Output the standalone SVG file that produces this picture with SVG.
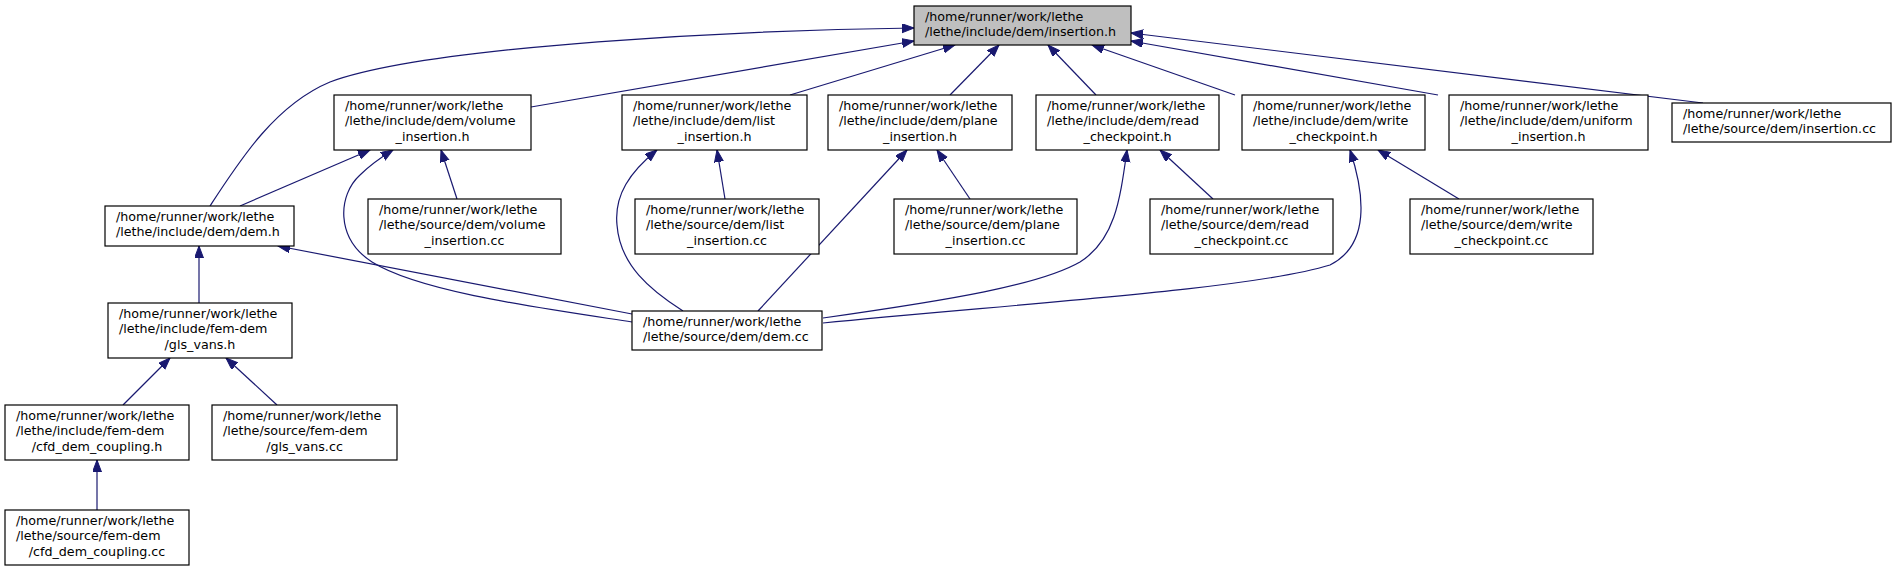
<svg xmlns="http://www.w3.org/2000/svg" width="1897" height="572" viewBox="0 0 1897 572">
<style>
  .box { fill: #ffffff; stroke: #000000; stroke-width: 1.2; }
  .cur { fill: #bfbfbf; stroke: #000000; stroke-width: 1.2; }
  text { font-family: "DejaVu Sans", "Liberation Sans", sans-serif; font-size: 12.7px; fill: #000000; }
  .m { text-anchor: middle; }
  .e { fill: none; stroke: #191970; stroke-width: 1.2; marker-end: url(#ah); }
</style>
<defs>
  <marker id="ah" markerUnits="userSpaceOnUse" markerWidth="14" markerHeight="10" refX="12" refY="4.5" orient="auto">
    <path d="M0,0 L12,4.5 L0,9 z" fill="#191970" stroke="#191970" stroke-width="1"/>
  </marker>
</defs>
<rect width="1897" height="572" fill="#ffffff"/>

<g id="edges">
  <path class="e" d="M210,206 C240,160 275,105 330,82 C430,45 750,30 914,28"/>
  <path class="e" d="M531,107 L914,41"/>
  <path class="e" d="M790,95 L955,45"/>
  <path class="e" d="M950,95 L999,45"/>
  <path class="e" d="M1096,95 L1048,45"/>
  <path class="e" d="M1235,95 L1092,45"/>
  <path class="e" d="M1438,95 L1131,41"/>
  <path class="e" d="M1703,103 L1131,33"/>
  <path class="e" d="M240,206 L370,150"/>
  <path class="e" d="M632,322 C540,308 420,292 372,262 C335,238 338,195 360,175 C370,165 380,158 393,150"/>
  <path class="e" d="M457,199 L441,150"/>
  <path class="e" d="M683,311 C650,290 620,265 617,225 C614,195 630,172 657,150"/>
  <path class="e" d="M725,199 L717,150"/>
  <path class="e" d="M758,311 L907,150"/>
  <path class="e" d="M970,199 L937,150"/>
  <path class="e" d="M823,318 C950,300 1040,285 1080,262 C1115,240 1120,200 1127,150"/>
  <path class="e" d="M1213,199 L1160,150"/>
  <path class="e" d="M823,323 C1000,305 1250,290 1330,265 C1370,245 1365,195 1350,150"/>
  <path class="e" d="M1459,199 L1378,150"/>
  <path class="e" d="M632,314 L278,246"/>
  <path class="e" d="M199,303 L199,246"/>
  <path class="e" d="M123,405 L170,358"/>
  <path class="e" d="M277,405 L226,358"/>
  <path class="e" d="M97,510 L97,460"/>
</g>

<g id="n_ins_h">
  <rect class="cur" x="914" y="6" width="217" height="39"/>
  <text x="925" y="21">/home/runner/work/lethe</text>
  <text x="925" y="36">/lethe/include/dem/insertion.h</text>
</g>
<g id="n_vol_h">
  <rect class="box" x="334" y="95" width="197" height="55"/>
  <text x="345" y="110">/home/runner/work/lethe</text>
  <text x="345" y="125">/lethe/include/dem/volume</text>
  <text class="m" x="432.5" y="140.5">_insertion.h</text>
</g>
<g id="n_list_h">
  <rect class="box" x="622" y="95" width="185" height="55"/>
  <text x="633" y="110">/home/runner/work/lethe</text>
  <text x="633" y="125">/lethe/include/dem/list</text>
  <text class="m" x="714.5" y="140.5">_insertion.h</text>
</g>
<g id="n_plane_h">
  <rect class="box" x="828" y="95" width="184" height="55"/>
  <text x="839" y="110">/home/runner/work/lethe</text>
  <text x="839" y="125">/lethe/include/dem/plane</text>
  <text class="m" x="920" y="140.5">_insertion.h</text>
</g>
<g id="n_read_h">
  <rect class="box" x="1036" y="95" width="183" height="55"/>
  <text x="1047" y="110">/home/runner/work/lethe</text>
  <text x="1047" y="125">/lethe/include/dem/read</text>
  <text class="m" x="1127.5" y="140.5">_checkpoint.h</text>
</g>
<g id="n_write_h">
  <rect class="box" x="1242" y="95" width="183" height="55"/>
  <text x="1253" y="110">/home/runner/work/lethe</text>
  <text x="1253" y="125">/lethe/include/dem/write</text>
  <text class="m" x="1333.5" y="140.5">_checkpoint.h</text>
</g>
<g id="n_unif_h">
  <rect class="box" x="1449" y="95" width="199" height="55"/>
  <text x="1460" y="110">/home/runner/work/lethe</text>
  <text x="1460" y="125">/lethe/include/dem/uniform</text>
  <text class="m" x="1548.5" y="140.5">_insertion.h</text>
</g>
<g id="n_ins_cc">
  <rect class="box" x="1672" y="103" width="219" height="39"/>
  <text x="1683" y="118">/home/runner/work/lethe</text>
  <text x="1683" y="133">/lethe/source/dem/insertion.cc</text>
</g>
<g id="n_dem_h">
  <rect class="box" x="105" y="206" width="189" height="40"/>
  <text x="116" y="221">/home/runner/work/lethe</text>
  <text x="116" y="236">/lethe/include/dem/dem.h</text>
</g>
<g id="n_vol_cc">
  <rect class="box" x="368" y="199" width="193" height="55"/>
  <text x="379" y="214">/home/runner/work/lethe</text>
  <text x="379" y="229">/lethe/source/dem/volume</text>
  <text class="m" x="464.5" y="244.5">_insertion.cc</text>
</g>
<g id="n_list_cc">
  <rect class="box" x="635" y="199" width="184" height="55"/>
  <text x="646" y="214">/home/runner/work/lethe</text>
  <text x="646" y="229">/lethe/source/dem/list</text>
  <text class="m" x="727" y="244.5">_insertion.cc</text>
</g>
<g id="n_plane_cc">
  <rect class="box" x="894" y="199" width="183" height="55"/>
  <text x="905" y="214">/home/runner/work/lethe</text>
  <text x="905" y="229">/lethe/source/dem/plane</text>
  <text class="m" x="985.5" y="244.5">_insertion.cc</text>
</g>
<g id="n_read_cc">
  <rect class="box" x="1150" y="199" width="183" height="55"/>
  <text x="1161" y="214">/home/runner/work/lethe</text>
  <text x="1161" y="229">/lethe/source/dem/read</text>
  <text class="m" x="1241.5" y="244.5">_checkpoint.cc</text>
</g>
<g id="n_write_cc">
  <rect class="box" x="1410" y="199" width="183" height="55"/>
  <text x="1421" y="214">/home/runner/work/lethe</text>
  <text x="1421" y="229">/lethe/source/dem/write</text>
  <text class="m" x="1501.5" y="244.5">_checkpoint.cc</text>
</g>
<g id="n_dem_cc">
  <rect class="box" x="632" y="311" width="190" height="39"/>
  <text x="643" y="326">/home/runner/work/lethe</text>
  <text x="643" y="341">/lethe/source/dem/dem.cc</text>
</g>
<g id="n_gls_h">
  <rect class="box" x="108" y="303" width="184" height="55"/>
  <text x="119" y="318">/home/runner/work/lethe</text>
  <text x="119" y="333">/lethe/include/fem-dem</text>
  <text class="m" x="200" y="348.5">/gls_vans.h</text>
</g>
<g id="n_cfd_h">
  <rect class="box" x="5" y="405" width="184" height="55"/>
  <text x="16" y="420">/home/runner/work/lethe</text>
  <text x="16" y="435">/lethe/include/fem-dem</text>
  <text class="m" x="97" y="450.5">/cfd_dem_coupling.h</text>
</g>
<g id="n_gls_cc">
  <rect class="box" x="212" y="405" width="185" height="55"/>
  <text x="223" y="420">/home/runner/work/lethe</text>
  <text x="223" y="435">/lethe/source/fem-dem</text>
  <text class="m" x="304.5" y="450.5">/gls_vans.cc</text>
</g>
<g id="n_cfd_cc">
  <rect class="box" x="5" y="510" width="184" height="55"/>
  <text x="16" y="525">/home/runner/work/lethe</text>
  <text x="16" y="540">/lethe/source/fem-dem</text>
  <text class="m" x="97" y="555.5">/cfd_dem_coupling.cc</text>
</g>
</svg>
